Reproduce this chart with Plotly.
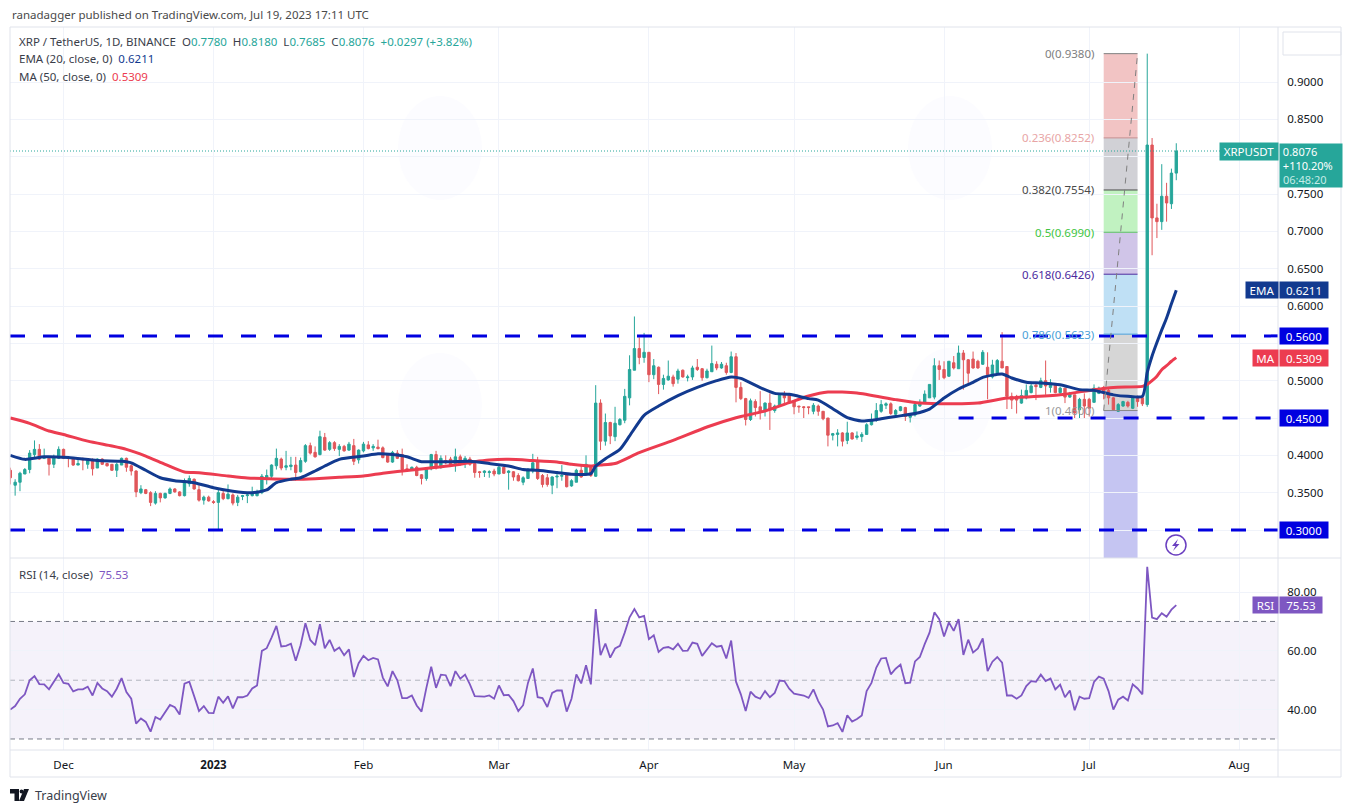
import pandas as pd
import plotly.graph_objects as go

W, H = 1356, 812
FONT = "Noto Sans"
TXT_SIZE = 11.5

opens = [.380,.360,.364,.375,.381,.401,.408,.396,.396,.388,
 .396,.408,.397,.396,.387,.395,.388,.394,.383,.395,
 .389,.388,.380,.387,.396,.386,.379,.350,.354,.350,
 .336,.349,.343,.349,.355,.351,.346,.362,.368,.354,
 .340,.344,.338,.337,.349,.342,.347,.337,.345,.346,
 .346,.346,.350,.368,.372,.386,.395,.384,.385,.387,
 .378,.392,.413,.404,.401,.424,.408,.417,.408,.412,
 .407,.413,.394,.406,.414,.410,.411,.410,.401,.391,
 .403,.401,.382,.381,.384,.374,.369,.382,.401,.384,
 .393,.395,.387,.398,.390,.395,.389,.378,.377,.377,
 .379,.375,.384,.377,.378,.373,.364,.369,.379,.391,
 .373,.370,.360,.371,.372,.375,.359,.364,.380,.375,
 .386,.372,.470,.419,.444,.425,.441,.447,.477,.514,
 .543,.531,.538,.508,.518,.495,.501,.505,.502,.514,
 .504,.505,.518,.516,.504,.512,.522,.517,.520,.511,
 .532,.491,.476,.448,.472,.465,.459,.470,.460,.466,
 .481,.481,.472,.466,.465,.465,.459,.466,.459,.450,
 .427,.428,.430,.420,.430,.424,.425,.428,.441,.449,
 .459,.467,.469,.455,.460,.464,.451,.454,.466,.470,
 .477,.478,.520,.515,.506,.524,.516,.537,.528,.529,
 .526,.522,.518,.505,.510,.526,.519,.479,.479,.470,
 .477,.484,.494,.491,.500,.491,.496,.484,.490,.478,
 .481,.461,.475,.475,.471,.483,.491,.487,.477,.459,
 .466,.471,.463,.478,.477,.468,.8156,.718,.713,.747,
 .737,.778]
highs = [.3835,.368,.378,.383,.407,.420,.415,.409,.399,.401,
 .412,.409,.397,.397,.396,.397,.395,.396,.396,.396,
 .390,.388,.390,.397,.397,.388,.380,.360,.355,.352,
 .352,.350,.350,.357,.356,.352,.369,.373,.369,.360,
 .346,.346,.340,.354,.353,.361,.349,.347,.347,.348,
 .358,.354,.375,.381,.388,.409,.397,.406,.398,.398,
 .397,.415,.417,.412,.433,.430,.419,.419,.415,.414,
 .418,.422,.408,.418,.419,.415,.421,.412,.402,.406,
 .407,.409,.388,.385,.386,.375,.383,.402,.406,.400,
 .400,.398,.409,.401,.399,.398,.390,.379,.380,.380,
 .382,.387,.386,.380,.379,.376,.372,.383,.402,.398,
 .375,.375,.372,.378,.387,.376,.368,.382,.387,.400,
 .387,.494,.475,.456,.445,.465,.450,.489,.534,.586,
 .558,.564,.538,.529,.519,.508,.527,.508,.516,.515,
 .508,.520,.529,.517,.516,.547,.526,.525,.524,.539,
 .537,.498,.477,.476,.475,.486,.471,.483,.468,.482,
 .486,.482,.473,.466,.466,.465,.470,.468,.459,.450,
 .430,.435,.431,.445,.431,.432,.431,.443,.456,.470,
 .474,.471,.471,.462,.466,.465,.455,.470,.475,.487,
 .495,.530,.527,.526,.526,.533,.547,.541,.529,.539,
 .528,.541,.538,.528,.529,.565,.519,.484,.481,.488,
 .495,.496,.496,.504,.527,.502,.497,.492,.490,.485,
 .481,.477,.483,.477,.495,.492,.493,.490,.478,.470,
 .473,.473,.479,.480,.478,.938,.825,.737,.790,.765,
 .784,.818]
lows = [.361,.346,.352,.375,.376,.395,.394,.395,.373,.383,
 .395,.395,.384,.386,.387,.380,.382,.373,.383,.387,
 .385,.379,.371,.387,.378,.373,.344,.348,.348,.332,
 .334,.337,.342,.348,.350,.345,.345,.358,.354,.338,
 .334,.338,.335,.3005,.340,.341,.333,.332,.340,.336,
 .345,.345,.348,.361,.369,.381,.380,.380,.380,.366,
 .377,.390,.401,.397,.400,.406,.406,.406,.399,.405,
 .406,.387,.389,.404,.408,.406,.408,.396,.390,.390,
 .395,.373,.378,.381,.372,.361,.366,.380,.381,.382,
 .388,.386,.378,.386,.383,.386,.370,.370,.371,.370,
 .372,.375,.375,.354,.366,.365,.360,.369,.376,.367,
 .357,.358,.348,.356,.366,.357,.358,.364,.370,.373,
 .371,.371,.407,.413,.415,.419,.440,.443,.467,.514,
 .522,.524,.498,.502,.482,.488,.500,.492,.496,.504,
 .499,.501,.513,.500,.503,.512,.514,.516,.508,.510,
 .471,.474,.440,.446,.452,.448,.452,.434,.457,.466,
 .470,.471,.455,.457,.450,.455,.455,.453,.447,.412,
 .420,.412,.412,.415,.421,.421,.418,.428,.440,.445,
 .457,.462,.454,.452,.459,.446,.444,.452,.465,.469,
 .477,.475,.501,.502,.505,.515,.516,.488,.497,.516,
 .516,.521,.475,.503,.508,.517,.462,.462,.456,.469,
 .475,.483,.474,.490,.481,.484,.483,.482,.470,.477,
 .450,.450,.450,.452,.471,.482,.475,.468,.460,.458,
 .465,.464,.462,.465,.466,.465,.668,.691,.702,.713,
 .730,.7685]
closes = [.370,.364,.376,.381,.403,.408,.395,.398,.388,.398,
 .408,.396,.396,.387,.389,.394,.393,.382,.395,.388,
 .386,.380,.388,.396,.384,.379,.351,.355,.349,.337,
 .349,.343,.349,.355,.351,.346,.366,.369,.355,.340,
 .344,.339,.337,.350,.342,.348,.336,.344,.346,.347,
 .350,.351,.372,.373,.387,.396,.383,.386,.387,.377,
 .393,.413,.403,.398,.425,.407,.417,.409,.412,.406,
 .415,.392,.407,.415,.409,.412,.409,.397,.391,.404,
 .396,.381,.380,.384,.373,.369,.381,.401,.383,.396,
 .390,.387,.398,.389,.396,.388,.377,.377,.379,.378,
 .375,.384,.376,.379,.371,.366,.370,.380,.390,.369,
 .361,.361,.371,.372,.373,.358,.366,.380,.371,.388,
 .373,.470,.419,.444,.426,.443,.448,.479,.515,.543,
 .531,.538,.508,.520,.495,.503,.506,.496,.513,.505,
 .505,.517,.515,.504,.513,.523,.517,.522,.511,.532,
 .491,.476,.448,.473,.464,.458,.470,.462,.466,.482,
 .477,.471,.465,.465,.464,.464,.467,.459,.449,.427,
 .429,.430,.419,.430,.422,.426,.428,.441,.448,.460,
 .468,.469,.456,.460,.465,.452,.453,.468,.471,.482,
 .495,.520,.515,.504,.526,.517,.537,.528,.510,.517,
 .517,.538,.508,.521,.527,.517,.479,.474,.474,.480,
 .487,.493,.492,.500,.493,.497,.484,.490,.478,.483,
 .457,.475,.466,.463,.490,.490,.486,.477,.461,.468,
 .472,.466,.478,.472,.469,.8156,.718,.713,.747,.738,
 .778,.8076]

# EMA(20) and MA(50) at selected bars (bar number from first bar)
ema_bar = [0,3,7,12,18,23,25,28,31,34,38,42,46,50,53,55,58,60,63,65,68,73,76,79,82,85,87,91,95,99,103,106,109,113,116,120,
 121,123,126,128,131,134,138,142,146,149,151,155,158,161,165,167,170,173,176,178,180,183,187,190,193,196,199,201,205,207,210,213,217,221,224,228,231,234,235,236,237,238,239,240,241]
ema_val = [.400,.3946,.398,.397,.393,.392,.390,.380,.370,.366,.3634,.3567,.352,.350,.3536,.3634,.368,.370,.379,.3857,.3946,.399,.402,.401,.398,.3915,.3915,.3915,.392,.389,.3857,.381,.380,.377,.3746,.3755,
 .3857,.3955,.408,.426,.4536,.466,.480,.491,.500,.505,.503,.4906,.483,.4817,.476,.474,.4625,.4504,.446,.4469,.449,.452,.456,.462,.4768,.4888,.4978,.5045,.509,.5036,.498,.497,.4946,.488,.487,.481,.479,.479,.511,.533,.551,.568,.584,.603,.6211]
ma_bar = [0,4,8,11,16,21,24,28,32,36,39,45,49,53,59,63,68,73,77,83,88,92,96,99,103,108,113,116,120,122,125,130,137,144,150,156,161,165,169,175,183,188,195,200,206,210,217,224,228,234,235,236,237,238,239,240,241]
ma_val = [.450,.4429,.4326,.428,.419,.4125,.408,.399,.388,.3777,.3768,.3723,.3696,.3688,.368,.3688,.3705,.3723,.376,.3804,.384,.387,.3915,.3938,.3946,.393,.391,.388,.3857,.387,.389,.4036,.420,.438,.4504,.4594,.4705,.4795,.4848,.4835,.4746,.470,.469,.470,.4768,.478,.481,.488,.491,.4924,.495,.500,.506,.5147,.520,.526,.5309]

rsi = [40,41.2,43.7,45.2,50,51.4,48.7,48.6,46.9,49.5,52,49.1,48.8,46.2,46.9,46.9,47.8,44.8,49.1,47.2,
 46.3,44.4,47.1,50.7,46,43.7,35.2,37,35.8,32.5,37.5,36.6,38.9,41.6,40.8,38.3,48.8,49.5,44.6,39.5,
 41.2,38.9,38.8,44.4,42.3,44.5,40.4,44.2,44.2,44.8,47.2,48.2,60,60.9,64.5,68.5,61.5,61.7,62.4,56.6,
 61.9,69.4,63.7,61.9,69.1,60.9,63.7,60,61.1,58.5,60.5,51.1,55.8,58.3,56.8,57.6,57.1,50.9,47.9,53.1,
 50,43.9,43.9,44.8,41.4,39.3,47.4,54.6,47.4,51.9,51.7,48,53.1,50.5,51.9,48.6,44.6,44.5,44.4,44.8,
 43.7,48.2,44.9,45,42.9,39.5,41.5,49.1,54,44.2,43.9,40.9,45.7,46.5,46.5,39.3,43.7,52,48.9,55.1,
 48.6,74.2,58.5,62.5,57.7,60.8,61.7,66.2,71.4,74.2,71.4,71.9,64,65.3,59.6,61,61.3,60.5,62.4,60,
 60.1,62.8,62.4,58.3,60.4,62.6,61.4,61.7,57.4,63.5,49.5,45.2,39.5,46.1,44.4,43.7,46.3,44.2,45.7,49.9,
 49.7,47.1,45.4,45.2,44.8,44,46.9,42.9,40,34.3,34.6,35.4,32.4,38.1,35.9,36.8,38,46.3,49.1,54.3,
 57.4,57.6,52,53.9,55.3,49,49.2,56.4,57.9,62.3,66.2,73.1,70.8,64.9,69.7,66.8,70.8,58.6,63.8,59.4,
 60.8,64.2,53.1,56.3,57.9,56,44.8,44.8,43.7,44.8,48,49.7,49.5,51.9,49.7,50.6,46.9,48.5,44.2,46.5,
 39.8,44.4,43.7,43.9,49.4,51.2,50.5,46.3,40,43.4,44.4,43.1,48.6,47.2,45.2,88.6,71.3,70.8,72.8,71.6,
 74,75.53]

fib_ratio = ["0", "0.236", "0.382", "0.5", "0.618", "0.786", "1"]
fib_price = [.9380, .8252, .7554, .6990, .6426, .5623, .4600]
fib_fill = ["#f2c4c4", "#d1d1d6", "#c1f2c1", "#d0c5e8", "#bfe0f5", "#d6d6d6", "#c5c5f2"]
fib_line = ["#808080", "#c98a8a", "#4a4a4a", "#3fc53f", "#4b2a9e", "#4a9fd8", "#888888"]
fib_text = ["#808080", "#e8a5a5", "#4a4a4a", "#3fc53f", "#4b2a9e", "#4a9fd8", "#999999"]
fib_start, fib_end = "2023-07-04", "2023-07-11"

levels_full = [.5600, .3000]
level_short = .4500
level_short_start = "2023-06-04"

price_ticks = [.30,.35,.40,.45,.50,.55,.60,.65,.70,.75,.80,.85,.90]
price_hidden = [.30,.45,.55,.80]
rsi_ticks = [40, 60, 80]
month_ticks = ["2022-12-01","2023-01-01","2023-02-01","2023-03-01","2023-04-01","2023-05-01","2023-06-01","2023-07-01","2023-08-01"]
month_text = ["Dec","<b>2023</b>","Feb","Mar","Apr","May","Jun","Jul","Aug"]
last_price, last_ema, last_ma, last_rsi = .8076, .6211, .5309, 75.53

dates = pd.date_range("2022-11-20", periods=len(closes))
ema_x = [dates[i] for i in ema_bar]
ma_x = [dates[i] for i in ma_bar]
X0, X1 = "2022-11-19 22:30", "2023-08-09 00:40"
Y0, Y1 = .2625, .9737

UP, DOWN = "#26a69a", "#e0565a"
BLUE, NAVY, RED, PURPLE = "#0000e0", "#123a8f", "#ec3c50", "#7e57c2"
GRID, BORDER, TEXT = "#f0f3fa", "#e0e3eb", "#131722"

px = lambda x: x / W
py = lambda y: 1 - y / H

fig = go.Figure()
fig.add_trace(go.Candlestick(x=dates, open=opens, high=highs, low=lows, close=closes, xaxis="x", yaxis="y",
    increasing=dict(line=dict(color=UP, width=1), fillcolor=UP),
    decreasing=dict(line=dict(color=DOWN, width=1), fillcolor=DOWN), whiskerwidth=0, showlegend=False))
fig.add_trace(go.Scatter(x=ma_x, y=ma_val, mode="lines", line=dict(color=RED, width=3, shape="spline", smoothing=0.6), xaxis="x", yaxis="y", showlegend=False))
fig.add_trace(go.Scatter(x=ema_x, y=ema_val, mode="lines", line=dict(color=NAVY, width=3, shape="spline", smoothing=0.6), xaxis="x", yaxis="y", showlegend=False))
for lv in levels_full:
    fig.add_trace(go.Scatter(x=[X0, X1], y=[lv, lv], mode="lines", line=dict(color=BLUE, width=3, dash="15px,18px"), showlegend=False))
fig.add_trace(go.Scatter(x=[level_short_start, X1], y=[level_short]*2, mode="lines", line=dict(color=BLUE, width=3, dash="15px,18px"), showlegend=False))
fig.add_trace(go.Scatter(x=[X0, X1], y=[last_price]*2, mode="lines", line=dict(color=UP, width=1, dash="1px,2px"), showlegend=False))
for p, c in zip(fib_price, fib_line):
    fig.add_trace(go.Scatter(x=[fib_start, fib_end], y=[p, p], mode="lines", line=dict(color=c, width=1), showlegend=False))
fig.add_trace(go.Scatter(x=[fib_start, fib_end], y=[fib_price[-1], fib_price[0]], mode="lines", line=dict(color="#808080", width=1, dash="6px,6px"), showlegend=False))

# RSI pane
fig.add_trace(go.Scatter(x=[X0, X1], y=[70, 70], xaxis="x", yaxis="y2", mode="lines", line=dict(color="#787b86", width=1, dash="5px,4px"), showlegend=False))
fig.add_trace(go.Scatter(x=[X0, X1], y=[30, 30], xaxis="x", yaxis="y2", mode="lines", line=dict(color="#787b86", width=1, dash="5px,4px"), showlegend=False))
fig.add_trace(go.Scatter(x=[X0, X1], y=[50, 50], xaxis="x", yaxis="y2", mode="lines", line=dict(color="#b2b5be", width=1, dash="5px,4px"), showlegend=False))
fig.add_trace(go.Scatter(x=dates, y=rsi, xaxis="x", yaxis="y2", mode="lines", line=dict(color=PURPLE, width=1.8), showlegend=False))

shapes = []
# faint watermark patches behind the marks
for cx, cy in [(440, 148), (950, 148), (440, 405), (950, 400)]:
    shapes.append(dict(type="circle", xref="paper", yref="paper", x0=px(cx-42), x1=px(cx+42), y0=py(cy+52), y1=py(cy-52),
                       fillcolor="#fcfcff", line_width=0, layer="below"))
# fib bands
edges = fib_price + [Y0]
for i, c in enumerate(fib_fill):
    shapes.append(dict(type="rect", xref="x", yref="y", x0=fib_start, x1=fib_end, y0=edges[i+1], y1=edges[i], fillcolor=c, line_width=0, layer="below"))
shapes.append(dict(type="rect", xref="x", yref="y2", x0=X0, x1=X1, y0=30, y1=70, fillcolor="rgba(126,87,194,0.08)", line_width=0, layer="below"))
# frame
L, R, AX, T, B, SEP, AXB = 10, 1341, 1278, 27, 777, 558, 750
def line(x0, y0, x1, y1, color=BORDER):
    return dict(type="line", xref="paper", yref="paper", x0=px(x0), y0=py(y0), x1=px(x1), y1=py(y1), line=dict(color=color, width=1), layer="above")
shapes += [line(L,T,R,T), line(L,B,R,B), line(L,T,L,B), line(R,T,R,B), line(AX,T,AX,B), line(L,SEP,R,SEP), line(L,AXB,R,AXB)]
# top right empty box
shapes.append(dict(type="rect", xref="paper", yref="paper", x0=px(1283), x1=px(1341), y0=py(55), y1=py(32), line=dict(color=BORDER, width=1), layer="above"))
def path(points):
    return "M " + " L ".join(f"{px(x):.5f},{py(y):.5f}" for x, y in points) + " Z"
# TradingView logo
shapes.append(dict(type="path", xref="paper", yref="paper", path=path([(10,789),(19,789),(19,801),(14.5,801),(14.5,793.5),(10,793.5)]), fillcolor=TEXT, line_width=0))
shapes.append(dict(type="circle", xref="paper", yref="paper", x0=px(19.6), x1=px(23.4), y0=py(793.5), y1=py(789.5), fillcolor=TEXT, line_width=0))
shapes.append(dict(type="path", xref="paper", yref="paper", path=path([(24,789),(29,789),(24,801),(19,801)]), fillcolor=TEXT, line_width=0))
# bolt icon
shapes.append(dict(type="circle", xref="paper", yref="paper", x0=px(1166), x1=px(1186), y0=py(555), y1=py(535), line=dict(color="#6a3fc0", width=1.5), layer="above"))
shapes.append(dict(type="path", xref="paper", yref="paper", path=path([(1178,539),(1172,546),(1175.5,546),(1173,551),(1179.5,544),(1176,544)]), fillcolor="#6a3fc0", line_width=0, layer="above"))

ann = []
def text(x, y, s, color=TEXT, size=TXT_SIZE, anchor="left", **kw):
    ann.append(dict(xref="paper", yref="paper", x=px(x), y=py(y), text=s, showarrow=False, xanchor=anchor, yanchor="middle",
                    font=dict(family=FONT, size=size, color=color), align="left", **kw))
def span(s, c):
    return f'<span style="color:{c}">{s}</span>'
text(10, 15, "ranadagger published on TradingView.com, Jul 19, 2023 17:11 UTC", "#4a4a4a")
g = UP
text(17, 41.5, "XRP / TetherUS, 1D, BINANCE  O" + span("0.7780", g) + "  H" + span("0.8180", g) + "  L" + span("0.7685", g) + "  C" + span("0.8076", g) + "  " + span("+0.0297 (+3.82%)", g), "#3a3e4a")
text(17, 59, "EMA (20, close, 0)  " + span("0.6211", NAVY), "#3a3e4a")
text(17, 76, "MA (50, close, 0)  " + span("0.5309", RED), "#3a3e4a")
text(17, 574, "RSI (14, close)  " + span("75.53", PURPLE), "#3a3e4a")
text(33, 795, "TradingView", "#3a3e4a", 12.5)

for r, p, c in zip(fib_ratio, fib_price, fib_text):
    ann.append(dict(xref="x", yref="y", x=fib_start, y=p, xshift=-8, text=f"{r}({p:.4f})", showarrow=False, xanchor="right", yanchor="middle",
                    font=dict(family=FONT, size=TXT_SIZE, color=c)))

def tag(xleft, width, yval, s, bg, yref="y", height=16):
    ann.append(dict(xref="paper", yref=yref, x=px(xleft), y=yval, text=s, showarrow=False, xanchor="left", yanchor="middle",
                    width=width, height=height, bgcolor=bg, borderpad=0, align="center", valign="middle",
                    font=dict(family=FONT, size=TXT_SIZE, color="white")))
tag(1278.5, 48, levels_full[0], "0.5600", BLUE)
tag(1278.5, 48, level_short, "0.4500", BLUE)
tag(1278.5, 48, levels_full[1], "0.3000", BLUE)
tag(1245, 32, last_ema, "EMA", NAVY)
tag(1278.5, 48, last_ema, "0.6211", NAVY)
tag(1252, 25, last_ma, "MA", RED)
tag(1278.5, 48, last_ma, "0.5309", RED)
tag(1252, 25, last_rsi, "RSI", PURPLE, yref="y2")
tag(1278.5, 42, last_rsi, "75.53", PURPLE, yref="y2")
tag(1219, 58, last_price, "XRPUSDT", UP, height=17)
ann.append(dict(xref="paper", yref="paper", x=px(1278.5), y=py(143), text="&nbsp;0.8076<br>&nbsp;+110.20%<br>&nbsp;" + span("06:48:20", "#c5ece7"), showarrow=False,
                xanchor="left", yanchor="top", width=62, height=43, bgcolor=UP, borderpad=0, align="left", valign="middle",
                font=dict(family=FONT, size=11, color="white")))

axis_font = dict(family=FONT, size=TXT_SIZE, color=TEXT)
fig.update_layout(
    width=W, height=H, margin=dict(l=0, r=0, t=0, b=0), paper_bgcolor="white", plot_bgcolor="white", showlegend=False,
    xaxis=dict(domain=[px(L), px(AX)], range=[X0, X1], type="date", anchor="y2", rangeslider=dict(visible=False),
               tickvals=month_ticks, ticktext=month_text, showgrid=True, gridcolor=GRID, gridwidth=1, tickfont=axis_font,
               ticks="outside", ticklen=4, tickcolor="rgba(0,0,0,0)", showline=False, zeroline=False),
    yaxis=dict(domain=[py(SEP), py(T)], range=[Y0, Y1], side="right", anchor="x", tickvals=price_ticks,
               ticktext=["" if t in price_hidden else f"{t:.4f}" for t in price_ticks], showgrid=True, gridcolor=GRID, tickfont=axis_font,
               ticks="outside", ticklen=6, tickcolor="rgba(0,0,0,0)", zeroline=False, showline=False),
    yaxis2=dict(domain=[py(AXB), py(SEP)], range=[26.25, 91.6], side="right", anchor="x", tickvals=rsi_ticks,
                ticktext=[f"{t:.2f}" for t in rsi_ticks], showgrid=True, gridcolor=GRID, tickfont=axis_font,
                ticks="outside", ticklen=6, tickcolor="rgba(0,0,0,0)", zeroline=False, showline=False),
    shapes=shapes, annotations=ann, font=dict(family=FONT),
)
fig.write_html("out.html", config={"displayModeBar": False}, post_script="document.body.style.margin='0';document.body.style.overflow='hidden';")
